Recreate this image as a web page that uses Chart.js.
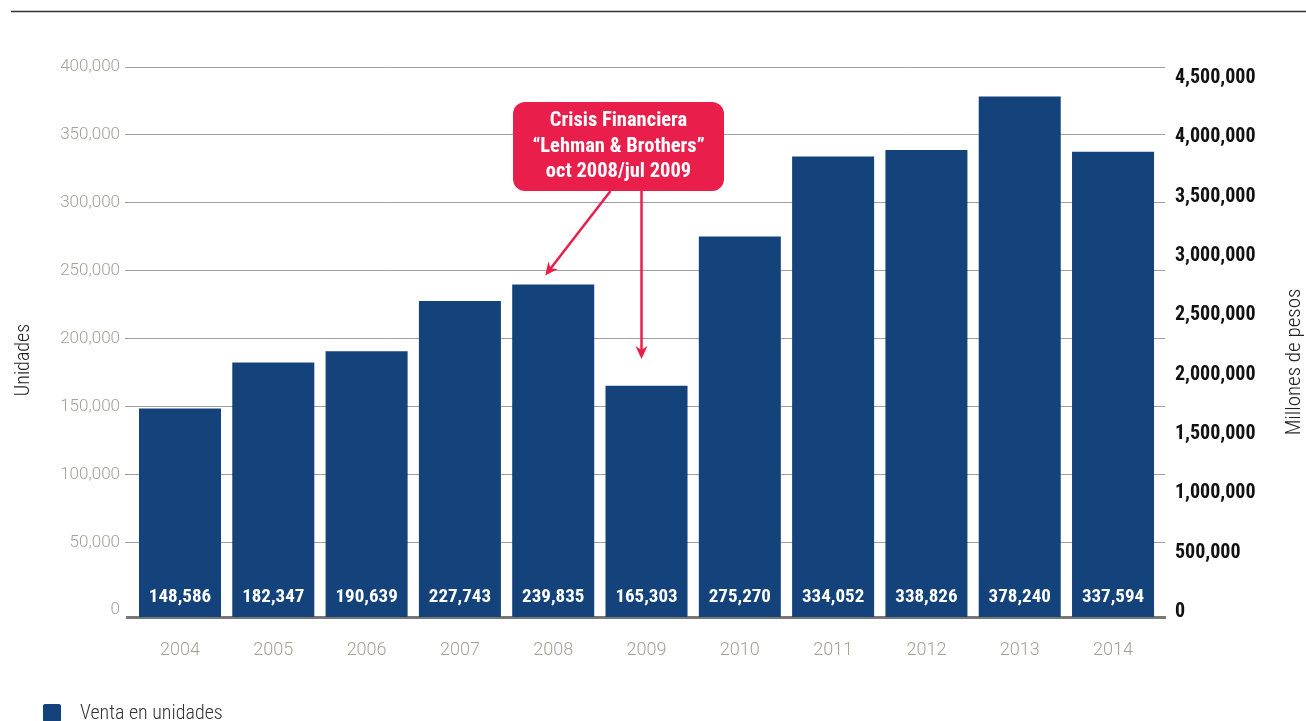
<!DOCTYPE html>
<html lang="es">
<head>
<meta charset="utf-8">
<title>Venta en unidades 2004–2014</title>
<script src="https://cdn.jsdelivr.net/npm/chart.js@4.4.1/dist/chart.umd.min.js"></script>
<style>
  html, body { margin: 0; padding: 0; background: #ffffff; }
  canvas { display: block; }
</style>
</head>
<body>
<canvas id="chart" width="1306" height="721"></canvas>
<script>
// Years on the horizontal axis
const years = ['2004', '2005', '2006', '2007', '2008', '2009', '2010', '2011', '2012', '2013', '2014'];
// Units sold per year
const units = [148586, 182347, 190639, 227743, 239835, 165303, 275270, 334052, 338826, 378240, 337594];
// Tick values of the left (units) axis
const unitTicks = [0, 50000, 100000, 150000, 200000, 250000, 300000, 350000, 400000];
// Tick values of the right (millions of pesos) axis
const pesoTicks = [0, 500000, 1000000, 1500000, 2000000, 2500000, 3000000, 3500000, 4000000, 4500000];
// Callout text
const calloutLines = ['Crisis Financiera', '\u201CLehman & Brothers\u201D', 'oct 2008/jul 2009'];

const FONT = 'Roboto, "DejaVu Sans Condensed", sans-serif';
const STRETCH = 'condensed';
const BAR_COLOR = '#13437a';
const RED = '#e91e4b';
const GREY_TEXT = '#a3a199';
const fmt = v => v.toLocaleString('en-US');

Chart.defaults.font.family = FONT;
Chart.defaults.font.style = STRETCH;

function f(weight, size) {
  return STRETCH + ' ' + weight + ' ' + size + 'px ' + FONT;
}

function arrow(ctx, x1, y1, x2, y2) {
  const ang = Math.atan2(y2 - y1, x2 - x1);
  const len = 13, half = 6;
  ctx.beginPath();
  ctx.moveTo(x1, y1);
  ctx.lineTo(x2 - Math.cos(ang) * 6, y2 - Math.sin(ang) * 6);
  ctx.stroke();
  ctx.beginPath();
  ctx.moveTo(x2, y2);
  ctx.lineTo(x2 - Math.cos(ang) * len - Math.sin(ang) * half, y2 - Math.sin(ang) * len + Math.cos(ang) * half);
  ctx.lineTo(x2 - Math.cos(ang) * (len - 4), y2 - Math.sin(ang) * (len - 4));
  ctx.lineTo(x2 - Math.cos(ang) * len + Math.sin(ang) * half, y2 - Math.sin(ang) * len - Math.cos(ang) * half);
  ctx.closePath();
  ctx.fill();
}

const decorations = {
  id: 'decorations',
  beforeDraw(chart) {
    if ('fontStretch' in chart.ctx) chart.ctx.fontStretch = STRETCH;
  },
  afterDatasetsDraw(chart) {
    const { ctx, chartArea } = chart;
    const meta = chart.getDatasetMeta(0);
    ctx.save();
    // value labels at the foot of each bar
    ctx.fillStyle = '#ffffff';
    ctx.font = f('bold', 19);
    ctx.textAlign = 'center';
    ctx.textBaseline = 'middle';
    meta.data.forEach((bar, i) => {
      ctx.fillText(fmt(units[i]), bar.x, chartArea.bottom - 20);
    });
    ctx.restore();
  },
  afterDraw(chart) {
    const { ctx, scales } = chart;
    const x = scales.x, y = scales.y;
    ctx.save();

    // rule across the top
    ctx.strokeStyle = '#333333';
    ctx.lineWidth = 1.5;
    ctx.beginPath();
    ctx.moveTo(11, 11.5);
    ctx.lineTo(1306, 11.5);
    ctx.stroke();

    // callout box
    const cx = x.getPixelForValue(4.7);
    const bw = 211, bh = 89, top = 102;
    const bx = cx - bw / 2;
    ctx.fillStyle = RED;
    ctx.beginPath();
    ctx.roundRect(bx, top, bw, bh, 12);
    ctx.fill();
    ctx.fillStyle = '#ffffff';
    ctx.font = f('bold', 20.5);
    ctx.textAlign = 'center';
    ctx.textBaseline = 'middle';
    calloutLines.forEach((t, i) => ctx.fillText(t, cx, 121 + i * 25.5));

    // arrows to 2008 and 2009
    ctx.strokeStyle = RED;
    ctx.fillStyle = RED;
    ctx.lineWidth = 2.5;
    arrow(ctx, cx - 8, top + bh, x.getPixelForValue(4) - 8, y.getPixelForValue(units[4]) - 9);
    const x2 = x.getPixelForValue(5) - 5;
    arrow(ctx, x2, top + bh, x2, y.getPixelForValue(185000));

    // axis titles, both reading bottom to top
    ctx.fillStyle = '#222222';
    ctx.textAlign = 'center';
    ctx.textBaseline = 'middle';
    ctx.font = f('300', 20);
    ctx.save();
    ctx.translate(24, 360);
    ctx.rotate(-Math.PI / 2);
    ctx.fillText('Unidades', 0, 0);
    ctx.restore();
    ctx.font = f('300', 21);
    ctx.save();
    ctx.translate(1295, 362);
    ctx.rotate(-Math.PI / 2);
    ctx.fillText('Millones de pesos', 0, 0);
    ctx.restore();

    // legend
    ctx.fillStyle = chart.data.datasets[0].backgroundColor;
    ctx.beginPath();
    ctx.roundRect(43, 704, 18, 18, 2);
    ctx.fill();
    ctx.fillStyle = '#333333';
    ctx.font = f('300', 20);
    ctx.textAlign = 'left';
    ctx.textBaseline = 'alphabetic';
    ctx.fillText(chart.data.datasets[0].label, 80, 719);

    ctx.restore();
  }
};

new Chart(document.getElementById('chart'), {
  type: 'bar',
  data: {
    datasets: [{
      label: 'Venta en unidades',
      data: years.map((yr, i) => ({ x: i, y: units[i] })),
      backgroundColor: BAR_COLOR,
      borderWidth: 0,
      barPercentage: 0.879,
      categoryPercentage: 1,
      yAxisID: 'y',
      base: -5000
    }]
  },
  options: {
    responsive: false,
    animation: false,
    layout: { padding: { top: 67, left: 0, right: 0, bottom: 0 } },
    plugins: {
      legend: { display: false },
      tooltip: { enabled: false }
    },
    scales: {
      x: {
        type: 'linear',
        offset: false,
        min: -0.568,
        max: 10.557,
        afterBuildTicks: s => { s.ticks = years.map((yr, i) => ({ value: i })); },
        afterFit: s => { s.height = 104; },
        grid: { display: false, drawTicks: false, offset: false },
        border: { display: true, color: '#777777', width: 3 },
        ticks: {
          callback: v => years[v],
          color: GREY_TEXT,
          font: { size: 18, weight: '300' },
          padding: 23,
          maxRotation: 0,
          autoSkip: false
        }
      },
      y: {
        position: 'left',
        min: -5000,
        max: 400000,
        afterBuildTicks: s => { s.ticks = unitTicks.map(v => ({ value: v })); },
        afterFit: s => { s.width = 127; },
        border: { display: false },
        grid: {
          color: ctx => (ctx.tick && ctx.tick.value === 0) ? 'rgba(0,0,0,0)' : '#a0a0a0',
          lineWidth: 1,
          drawTicks: true,
          tickLength: 2
        },
        ticks: {
          callback: v => fmt(v),
          color: GREY_TEXT,
          font: { size: 17, weight: '300' },
          padding: 5
        }
      },
      y1: {
        position: 'right',
        min: -42135,
        max: 4592697,
        afterBuildTicks: s => { s.ticks = pesoTicks.map(v => ({ value: v })); },
        afterFit: s => { s.width = 141; },
        border: { display: false },
        grid: { display: false, drawTicks: false },
        ticks: {
          callback: v => fmt(v),
          color: '#111111',
          font: { size: 20, weight: 'bold' },
          padding: 10
        }
      }
    }
  },
  plugins: [decorations]
});
</script>
</body>
</html>
